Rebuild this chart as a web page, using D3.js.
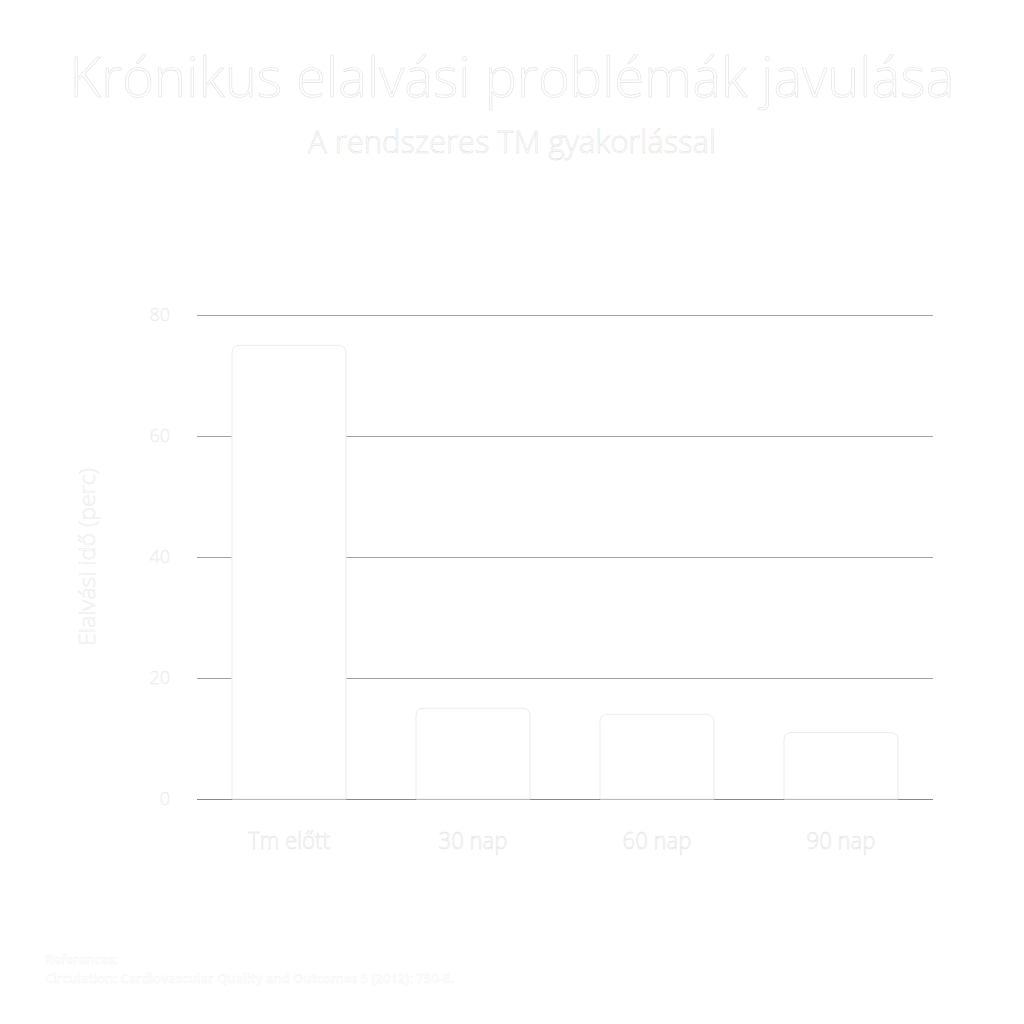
<!DOCTYPE html>
<html>
<head>
<meta charset="utf-8">
<script src="https://cdn.jsdelivr.net/npm/d3@7"></script>
<style>
  html, body { margin: 0; padding: 0; background: #fff; }
  svg { display: block; font-family: "Open Sans", sans-serif; }
</style>
</head>
<body>
<div id="app"></div>
<script>
// chart data
const categories = ['Tm előtt', '30 nap', '60 nap', '90 nap']
const values = [75, 15, 14, 11]
const yTicks = [0, 20, 40, 60, 80]

const title = 'Krónikus elalvási problémák javulása'
const subtitle = 'A rendszeres TM gyakorlással'
const yLabel = 'Elalvási idő (perc)'
const refLines = ['References:', 'Circulation: Cardiovascular Quality and Outcomes 5 (2012): 750-8.']

function main() {
  const W = 1024, H = 1024
  const plot = { left: 197, right: 933, top: 315, bottom: 799 }

  const svg = d3.select('#app').append('svg')
    .attr('width', W).attr('height', H)

  const textFill = '#ffffff'
  const textEdge = '#e2e2e2'
  const softEdge = '#ebebeb'

  // squeeze a text element to a target width (the reference font is condensed)
  function fitWidth(sel, cx, cy, target, rot) {
    const w = sel.node().getComputedTextLength()
    const s = target / w
    sel.attr('x', 0).attr('y', 0)
      .attr('transform', `translate(${cx},${cy})${rot ? ` rotate(${rot})` : ''} scale(${s},1)`)
  }

  const t = svg.append('text')
    .attr('text-anchor', 'middle')
    .attr('font-size', 56).attr('font-weight', 300)
    .attr('fill', textFill).attr('stroke', textEdge).attr('stroke-width', 0.6)
    .text(title)
  fitWidth(t, 512, 97, 885)

  const st = svg.append('text')
    .attr('text-anchor', 'middle')
    .attr('font-size', 31).attr('font-weight', 300)
    .attr('fill', textFill).attr('stroke', textEdge).attr('stroke-width', 0.5)
    .text(subtitle)
  fitWidth(st, 512, 153, 408)

  const x = d3.scaleBand().domain(categories).range([plot.left, plot.right])
    .paddingInner(0.38).paddingOuter(0.19)
  const y = d3.scaleLinear().domain([0, 80]).range([plot.bottom, plot.top])

  // grid lines
  svg.append('g').selectAll('line').data(yTicks).join('line')
    .attr('x1', plot.left).attr('x2', plot.right)
    .attr('y1', d => y(d) + 0.5).attr('y2', d => y(d) + 0.5)
    .attr('stroke', d => d === 0 ? '#888' : '#a0a0a0').attr('stroke-width', 1)

  // y tick labels
  svg.append('g').selectAll('text').data(yTicks).join('text')
    .attr('x', 170).attr('y', d => y(d)).attr('dy', '0.35em')
    .attr('text-anchor', 'end').attr('font-size', 18).attr('font-weight', 300)
    .attr('fill', textFill).attr('stroke', softEdge).attr('stroke-width', 0.5)
    .text(d => d)

  // y axis label
  const yl = svg.append('text')
    .attr('text-anchor', 'middle').attr('font-size', 22).attr('font-weight', 300)
    .attr('fill', textFill).attr('stroke', softEdge).attr('stroke-width', 0.5)
    .text(yLabel)
  fitWidth(yl, 95, (plot.top + plot.bottom) / 2, 178, -90)

  // bars with rounded top corners
  const r = 8
  const barPath = (d, i) => {
    const x0 = x(categories[i]), x1 = x0 + x.bandwidth()
    const y0 = y(d), yb = y(0)
    return `M${x0},${yb} L${x0},${y0 + r} Q${x0},${y0} ${x0 + r},${y0} L${x1 - r},${y0} Q${x1},${y0} ${x1},${y0 + r} L${x1},${yb} Z`
  }
  svg.append('g').selectAll('path').data(values).join('path')
    .attr('d', barPath)
    .attr('fill', '#ffffff').attr('stroke', '#ececec').attr('stroke-width', 1)

  // x category labels
  svg.append('g').selectAll('text').data(categories).join('text')
    .attr('font-size', 24).attr('font-weight', 300)
    .attr('text-anchor', 'middle')
    .attr('fill', textFill).attr('stroke', textEdge).attr('stroke-width', 0.5)
    .each(function (d) {
      const sel = d3.select(this).text(d)
      const cx = x(d) + x.bandwidth() / 2
      fitWidth(sel, cx, 849, sel.node().getComputedTextLength() * 0.92)
    })

  // references
  svg.append('g').selectAll('text').data(refLines).join('text')
    .attr('x', 45).attr('y', (d, i) => 964 + i * 19)
    .attr('font-size', 13).attr('font-weight', 600)
    .attr('fill', textFill).attr('stroke', '#efefef').attr('stroke-width', 0.3)
    .text(d => d)
}

main()
</script>
</body>
</html>
